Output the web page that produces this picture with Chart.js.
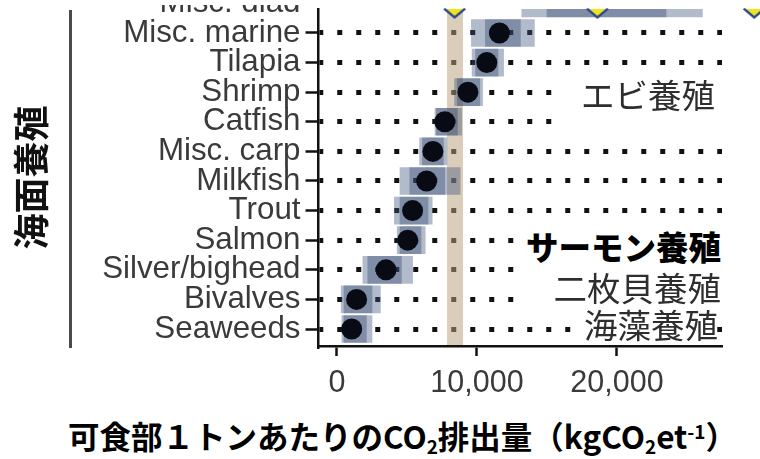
<!DOCTYPE html>
<html>
<head>
<meta charset="utf-8">
<script src="https://cdn.jsdelivr.net/npm/chart.js@4.4.1/dist/chart.umd.min.js"></script>
<style>
  html, body { margin: 0; padding: 0; background: #fff; width: 760px; height: 459px; overflow: hidden; }
  body { position: relative; }
  #clip { position: absolute; left: 0; top: 5px; width: 760px; height: 410px; overflow: hidden; }
  #holder { position: absolute; left: 0; top: -5px; width: 760px; height: 410px; }
  .bracket { position: absolute; left: 69px; top: 10px; width: 2.5px; height: 338px; background: #4a4a4a; }
  .mask { position: absolute; background: #fff; }
  .note { position: absolute; font-family: 'Noto Sans CJK JP', sans-serif; line-height: 1; white-space: nowrap; color: #2e2e2e; }
  .note.strong { color: #000; font-weight: 900; }
  #xtitle { position: absolute; left: 68px; top: 420px; font-family: 'Noto Sans CJK JP', sans-serif; font-weight: 700;
            font-size: 31.5px; line-height: 1; color: #000; white-space: nowrap; }
  #xtitle sub { font-size: 0.6em; vertical-align: -0.28em; line-height: 0; }
  #xtitle sup { font-size: 0.6em; vertical-align: 0.55em; line-height: 0; }
</style>
</head>
<body>
<div id="clip"><div id="holder"><canvas id="chart" width="760" height="410"></canvas></div></div>
<div class="bracket"></div>

<div class="mask" style="left:555px; top:78px; width:172px; height:58px;"></div>
<div class="mask" style="left:518px; top:222px; width:210px; height:96px;"></div>
<div class="mask" style="left:572px; top:318px; width:142px; height:24px;"></div>

<div class="note" style="right:45px; top:77px; font-size:33.5px;">エビ養殖</div>
<div class="note strong" style="right:39px; top:230px; font-size:32.5px;">サーモン養殖</div>
<div class="note" style="right:39px; top:270px; font-size:33.5px;">二枚貝養殖</div>
<div class="note" style="right:42px; top:307px; font-size:33.5px;">海藻養殖</div>

<div id="xtitle">可食部１トンあたりのCO<sub>2</sub>排出量（kgCO<sub>2</sub>et<sup>-1</sup>）</div>

<script>
// Species groups, bottom row first
const categories = ['Seaweeds', 'Bivalves', 'Silver/bighead', 'Salmon', 'Trout', 'Milkfish',
                    'Misc. carp', 'Catfish', 'Shrimp', 'Tilapia', 'Misc. marine', 'Misc. diad'];
// Median emissions per tonne of edible weight (kgCO2e/t)
const medianCO2 = [1050, 1400, 3500, 5050, 5400, 6400, 6850, 7700, 9350, 10700, 11600, 18600];
// Wide and narrow uncertainty ranges
const outerLow  = [350,  300,  1850, 4300, 4100, 4500, 5900, 7000, 8400,  9650,  9600, 13200];
const outerHigh = [2500, 3100, 5400, 6300, 6800, 8800, 7850, 8900, 10400, 11900, 14100, 26100];
const innerLow  = [500,  500,  2200, 4500, 4500, 5200, 6100, 7100, 8600,  9900,  10600, 15000];
const innerHigh = [2100, 2500, 4600, 6000, 6500, 7700, 7600, 8600, 10200, 11500, 13100, 23500];
// Reference range shown as a shaded column
const referenceBand = [7860, 9000];
// Markers along the top edge
const markerValues = [8400, 18600, 29800];
const xTickValues = [0, 10000, 20000];

const X_MIN = -1321, X_MAX = 27500;
const Y_MIN = -0.574, Y_MAX = 10.81;

Chart.defaults.font.family = "'Liberation Sans', Arial, sans-serif";

// Flat downward triangle with a dark outline, drawn just below its anchor point
function makeMarker() {
  const c = document.createElement('canvas');
  c.width = 24; c.height = 22;
  const g = c.getContext('2d');
  g.beginPath(); g.moveTo(2, 11); g.lineTo(22, 11); g.lineTo(12, 19.5); g.closePath();
  g.fillStyle = '#f2e41a'; g.fill();
  g.beginPath(); g.moveTo(1.5, 10.6); g.lineTo(12, 19.5); g.lineTo(22.5, 10.6);
  g.strokeStyle = '#2a4a92'; g.lineWidth = 2.4; g.lineJoin = 'miter'; g.stroke();
  return c;
}

const bandPlugin = {
  id: 'referenceBand',
  beforeDatasetsDraw(chart) {
    const { ctx, chartArea, scales: { x } } = chart;
    const x0 = x.getPixelForValue(referenceBand[0]);
    const x1 = x.getPixelForValue(referenceBand[1]);
    ctx.save();
    ctx.fillStyle = 'rgba(185,160,120,0.52)';
    ctx.fillRect(x0, chartArea.top, x1 - x0, chartArea.bottom - chartArea.top);
    ctx.restore();
  }
};

const rows = categories.map((_, i) => i);
// rows above the visible range keep their label but get no grid line
const rowColor = c => (c.tick && c.tick.value > Y_MAX) ? 'rgba(0,0,0,0)' : '#111';

new Chart(document.getElementById('chart'), {
  type: 'bar',
  data: {
    datasets: [
      {
        type: 'scatter', indexAxis: 'x', label: 'markers', order: 0,
        data: markerValues.map(v => ({ x: v, y: Y_MAX })),
        pointStyle: makeMarker(), pointRadius: 40, pointHoverRadius: 40, clip: false
      },
      {
        type: 'scatter', indexAxis: 'x', label: 'median', order: 1,
        data: rows.map(i => ({ x: medianCO2[i], y: i })),
        pointRadius: 10.5, pointHoverRadius: 10.5, backgroundColor: '#080b14', borderWidth: 0, clip: 0
      },
      {
        label: 'inner range', order: 2, grouped: false,
        data: rows.map(i => ({ y: i, x: [innerLow[i], innerHigh[i]] })),
        backgroundColor: 'rgba(40,60,100,0.36)', borderWidth: 0, barThickness: 27, clip: 0
      },
      {
        label: 'outer range', order: 3, grouped: false,
        data: rows.map(i => ({ y: i, x: [outerLow[i], outerHigh[i]] })),
        backgroundColor: 'rgba(60,85,125,0.4)', borderWidth: 0, barThickness: 27, clip: 0
      }
    ]
  },
  options: {
    indexAxis: 'y',
    responsive: false,
    animation: false,
    events: [],
    layout: { autoPadding: false, padding: { top: 9, right: 38, left: 0, bottom: 0 } },
    plugins: { legend: { display: false }, tooltip: { enabled: false } },
    scales: {
      x: {
        type: 'linear', min: X_MIN, max: X_MAX, bounds: 'data', offset: false,
        afterBuildTicks: s => { s.ticks = xTickValues.map(v => ({ value: v })); },
        afterFit: s => { s.height = 64; s.paddingLeft = 0; s.paddingRight = 0; },
        grid: { drawOnChartArea: false, drawTicks: true, tickLength: 10, tickWidth: 2.5, tickColor: '#111', color: '#111', offset: false },
        border: { display: true, color: '#111', width: 2.5, z: 1 },
        ticks: { color: '#3a3a3a', font: { size: 30.5 }, padding: 9, maxRotation: 0, autoSkip: false,
                 callback: v => v.toLocaleString('en-US') }
      },
      y: {
        type: 'linear', min: Y_MIN, max: Y_MAX, bounds: 'data', offset: false,
        afterBuildTicks: s => { s.ticks = rows.map(i => ({ value: i })); },
        afterFit: s => { s.width = 318.5; s.paddingTop = 0; s.paddingBottom = 0; },
        grid: { color: rowColor, lineWidth: 5, drawTicks: true, tickLength: 13, tickWidth: 2.5, tickColor: rowColor, offset: false },
        border: { display: true, color: '#111', width: 2.5, dash: [5, 14], dashOffset: 1.25, z: 1 },
        ticks: { color: '#3a3a3a', font: { size: 31.3 }, padding: 5, autoSkip: false,
                 callback: v => categories[v] },
        title: { display: true, text: '海面養殖', color: '#111',
                 font: { family: "'Noto Sans CJK JP', sans-serif", size: 36, weight: 'bold' },
                 padding: { top: 9.5, bottom: 0 } }
      }
    }
  },
  plugins: [bandPlugin]
});
</script>
</body>
</html>
